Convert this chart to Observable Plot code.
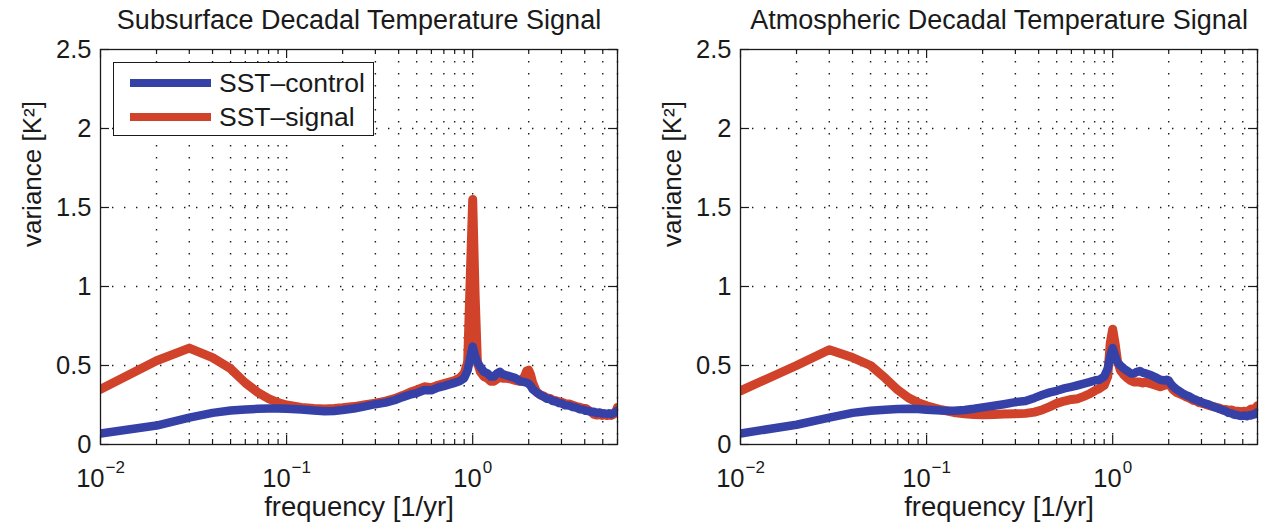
<!DOCTYPE html>
<html>
<head>
<meta charset="utf-8">
<script src="https://cdn.jsdelivr.net/npm/d3@7"></script>
<script src="https://cdn.jsdelivr.net/npm/@observablehq/plot@0.6"></script>
<style>
  html, body { margin: 0; padding: 0; background: #ffffff; }
  #wrap { position: relative; width: 1265px; height: 524px; overflow: hidden;
          font-family: "Liberation Sans", Arial, Helvetica, sans-serif; color: #1a1a1a; }
  .panel { position: absolute; top: 0; }
  #legend { position: absolute; left: 113px; top: 62px; width: 261px; height: 74px;
            box-sizing: border-box; border: 1.3px solid #1a1a1a; background: #ffffff; }
  #legend .sw { position: absolute; left: 16px; width: 81px; height: 8px; }
  #legend .lb { position: absolute; left: 105px; height: 30px; line-height: 30px; font-size: 26.5px; white-space: nowrap; }
</style>
</head>
<body>
<div id="wrap"></div>
<script>
// ---------------- data ----------------
const seriesNames = ["SST–control", "SST–signal"];
const panelTitles = ["Subsurface Decadal Temperature Signal", "Atmospheric Decadal Temperature Signal"];
const xLabel = "frequency [1/yr]";
const yLabel = "variance [K²]";
const yTicks = [0, 0.5, 1, 1.5, 2, 2.5];
const yTickLabels = ["0", "0.5", "1", "1.5", "2", "2.5"];
const xMajor = [0.01, 0.1, 1];
const xExponents = ["−2", "−1", "0"];
const xMinor = [0.02, 0.03, 0.04, 0.05, 0.06, 0.07, 0.08, 0.09,
                0.2, 0.3, 0.4, 0.5, 0.6, 0.7, 0.8, 0.9,
                2, 3, 4, 5, 6];

const freq = [
  0.01, 0.02, 0.03, 0.04, 0.05, 0.06, 0.07, 0.08, 0.09, 0.10,
  0.12, 0.14, 0.16, 0.18, 0.20, 0.23, 0.26, 0.30, 0.34, 0.38,
  0.42, 0.46, 0.50, 0.55, 0.60, 0.65, 0.70, 0.75, 0.80, 0.85,
  0.90, 0.94, 0.97, 1.00, 1.03, 1.06, 1.10, 1.15, 1.20, 1.25,
  1.30, 1.35, 1.40, 1.45, 1.50, 1.60, 1.70, 1.80, 1.90, 1.95,
  2.00, 2.05, 2.10, 2.20, 2.30, 2.40, 2.50, 2.60, 2.70, 2.80,
  2.90, 3.00, 3.15, 3.30, 3.45, 3.60, 3.75, 3.90, 4.05, 4.20,
  4.35, 4.50, 4.65, 4.80, 4.95, 5.10, 5.25, 5.40, 5.55, 5.70,
  5.85, 6.00
];

// Subsurface panel
const subControl = [
  0.07, 0.12, 0.17, 0.20, 0.215, 0.222, 0.226, 0.228, 0.228, 0.226,
  0.222, 0.215, 0.21, 0.212, 0.218, 0.228, 0.24, 0.255, 0.265, 0.28,
  0.30, 0.315, 0.325, 0.345, 0.343, 0.36, 0.37, 0.38, 0.39, 0.40,
  0.42, 0.47, 0.55, 0.62, 0.56, 0.52, 0.49, 0.46, 0.45, 0.43,
  0.43, 0.45, 0.46, 0.445, 0.44, 0.43, 0.42, 0.40, 0.395, 0.39,
  0.385, 0.37, 0.35, 0.33, 0.315, 0.303, 0.29, 0.287, 0.275, 0.272,
  0.263, 0.26, 0.248, 0.246, 0.237, 0.233, 0.223, 0.222, 0.213, 0.212,
  0.206, 0.207, 0.199, 0.203, 0.196, 0.197, 0.193, 0.197, 0.192, 0.2,
  0.205, 0.215
];
const subSignal = [
  0.35, 0.53, 0.61, 0.55, 0.48, 0.39, 0.33, 0.29, 0.265, 0.25,
  0.235, 0.228, 0.225, 0.228, 0.232, 0.24, 0.25, 0.262, 0.275, 0.29,
  0.31, 0.33, 0.345, 0.365, 0.36, 0.375, 0.385, 0.395, 0.405, 0.42,
  0.45, 0.52, 1.05, 1.55, 0.95, 0.52, 0.46, 0.43, 0.42, 0.40,
  0.40, 0.415, 0.425, 0.42, 0.42, 0.415, 0.405, 0.40, 0.43, 0.465,
  0.47, 0.44, 0.39, 0.335, 0.315, 0.307, 0.295, 0.292, 0.28, 0.277,
  0.27, 0.268, 0.258, 0.256, 0.248, 0.24, 0.236, 0.229, 0.228, 0.215,
  0.205, 0.19, 0.186, 0.191, 0.184, 0.188, 0.183, 0.187, 0.184, 0.19,
  0.2, 0.235
];

// Atmospheric panel
const atmControl = [
  0.07, 0.125, 0.17, 0.20, 0.213, 0.22, 0.225, 0.226, 0.224, 0.22,
  0.215, 0.213, 0.218, 0.226, 0.235, 0.245, 0.255, 0.268, 0.275, 0.295,
  0.315, 0.33, 0.34, 0.355, 0.365, 0.375, 0.385, 0.395, 0.405, 0.41,
  0.43, 0.48, 0.56, 0.61, 0.56, 0.52, 0.50, 0.48, 0.465, 0.45,
  0.45, 0.46, 0.465, 0.455, 0.45, 0.44, 0.425, 0.41, 0.405, 0.41,
  0.405, 0.385, 0.37, 0.35, 0.335, 0.32, 0.31, 0.302, 0.29, 0.283,
  0.275, 0.268, 0.258, 0.252, 0.24, 0.234, 0.224, 0.217, 0.21, 0.2,
  0.197, 0.188, 0.187, 0.182, 0.181, 0.183, 0.179, 0.185, 0.184, 0.19,
  0.193, 0.205
];
const atmSignal = [
  0.34, 0.50, 0.60, 0.55, 0.50, 0.42, 0.345, 0.295, 0.265, 0.245,
  0.22, 0.203, 0.195, 0.19, 0.188, 0.19, 0.193, 0.195, 0.197, 0.205,
  0.22, 0.24, 0.26, 0.275, 0.285, 0.29, 0.305, 0.32, 0.34, 0.355,
  0.375, 0.43, 0.64, 0.73, 0.64, 0.53, 0.47, 0.44, 0.42, 0.405,
  0.395, 0.395, 0.395, 0.39, 0.395, 0.385, 0.375, 0.365, 0.375, 0.38,
  0.385, 0.37, 0.35, 0.33, 0.32, 0.31, 0.30, 0.292, 0.28, 0.277,
  0.265, 0.262, 0.255, 0.246, 0.241, 0.235, 0.23, 0.222, 0.222, 0.215,
  0.218, 0.212, 0.211, 0.209, 0.207, 0.211, 0.205, 0.215, 0.225, 0.219,
  0.23, 0.245
];

// ---------------- drawing ----------------
const FONT = '"Liberation Sans", Arial, Helvetica, sans-serif';
const INK = "#1a1a1a";
const BLUE = "#3641a8";
const RED = "#d0422a";
const H = 524, MT = 49, MB = 80;

function makePanel(title, control, signal, width, ml, mr) {
  const fh = H - MT - MB, fw = width - ml - mr;
  const rows = (vals, name) => freq.map((f, i) => ({f, v: vals[i], series: name}));
  const yt = yTicks.map((y, i) => ({y, label: yTickLabels[i]}));
  const majors = xMajor.map((x, i) => ({x, e: xExponents[i]}));
  const negMaj = majors.filter(d => d.e.length > 1);
  const zeroMaj = majors.filter(d => d.e.length === 1);
  const dotted = {stroke: INK, strokeWidth: 1.4, strokeDasharray: "1.4,10.6"};
  const tick = {stroke: INK, strokeWidth: 1.2};
  return Plot.plot({
    width, height: H, marginTop: MT, marginBottom: MB, marginLeft: ml, marginRight: mr,
    style: {background: "transparent", fontFamily: FONT, color: INK, overflow: "visible"},
    x: {type: "log", domain: [0.01, 6], axis: null},
    y: {domain: [0, 2.5], axis: null},
    marks: [
      Plot.ruleX([...xMajor.slice(1), ...xMinor], {x: d => d, ...dotted}),
      Plot.ruleY(yTicks.slice(1, -1), {y: d => d, ...dotted}),
      Plot.line(rows(signal, seriesNames[1]), {x: "f", y: "v", stroke: RED, strokeWidth: 9,
        strokeLinejoin: "round", clip: true}),
      Plot.line(rows(control, seriesNames[0]), {x: "f", y: "v", stroke: BLUE, strokeWidth: 8.5,
        strokeLinejoin: "round", clip: true}),
      Plot.tickX(xMinor, {x: d => d, insetTop: fh - 5, ...tick}),
      Plot.tickX(xMinor, {x: d => d, insetBottom: fh - 5, ...tick}),
      Plot.tickX(xMajor, {x: d => d, insetTop: fh - 9, ...tick}),
      Plot.tickX(xMajor, {x: d => d, insetBottom: fh - 9, ...tick}),
      Plot.tickY(yTicks, {y: d => d, insetRight: fw - 9, ...tick}),
      Plot.tickY(yTicks, {y: d => d, insetLeft: fw - 9, ...tick}),
      Plot.frame({stroke: INK, strokeWidth: 1.3}),
      // y tick labels
      Plot.text(yt, {y: "y", text: "label", frameAnchor: "left", textAnchor: "end", dx: -9,
        fontSize: 25.5, fill: INK}),
      // x tick labels: base "10" and exponent
      Plot.text(negMaj, {x: "x", text: () => "10", frameAnchor: "bottom", textAnchor: "end",
        lineAnchor: "bottom", dx: 4, dy: 42, fontSize: 25.5, fill: INK}),
      Plot.text(negMaj, {x: "x", text: "e", frameAnchor: "bottom", textAnchor: "start",
        lineAnchor: "bottom", dx: 5, dy: 28, fontSize: 17, fill: INK}),
      Plot.text(zeroMaj, {x: "x", text: () => "10", frameAnchor: "bottom", textAnchor: "end",
        lineAnchor: "bottom", dx: 9, dy: 42, fontSize: 25.5, fill: INK}),
      Plot.text(zeroMaj, {x: "x", text: "e", frameAnchor: "bottom", textAnchor: "start",
        lineAnchor: "bottom", dx: 10, dy: 28, fontSize: 17, fill: INK}),
      // axis labels and title
      Plot.text([xLabel], {text: d => d, frameAnchor: "bottom", lineAnchor: "bottom", dy: 71,
        fontSize: 27.5, fill: INK}),
      Plot.text([yLabel], {text: d => d, frameAnchor: "left", dx: -68, rotate: -90,
        fontSize: 26, fill: INK}),
      Plot.text([title], {text: d => d, frameAnchor: "top", lineAnchor: "bottom", dy: -21,
        fontSize: 27, fill: INK})
    ]
  });
}

const wrap = document.getElementById("wrap");
const left = makePanel(panelTitles[0], subControl, subSignal, 632, 100, 15);
const right = makePanel(panelTitles[1], atmControl, atmSignal, 633, 108, 8);
const d1 = document.createElement("div"); d1.className = "panel"; d1.style.left = "0px"; d1.appendChild(left);
const d2 = document.createElement("div"); d2.className = "panel"; d2.style.left = "632px"; d2.appendChild(right);
wrap.appendChild(d1); wrap.appendChild(d2);

// legend (inside left panel)
const legend = document.createElement("div");
legend.id = "legend";
const legendColors = [BLUE, RED];
const legendCenters = [20, 54];
seriesNames.forEach((name, i) => {
  const sw = document.createElement("div");
  sw.className = "sw";
  sw.style.background = legendColors[i];
  sw.style.top = (legendCenters[i] - 4) + "px";
  const lb = document.createElement("div");
  lb.className = "lb";
  lb.style.top = (legendCenters[i] - 15) + "px";
  lb.textContent = name;
  legend.appendChild(sw); legend.appendChild(lb);
});
wrap.appendChild(legend);
</script>
</body>
</html>
